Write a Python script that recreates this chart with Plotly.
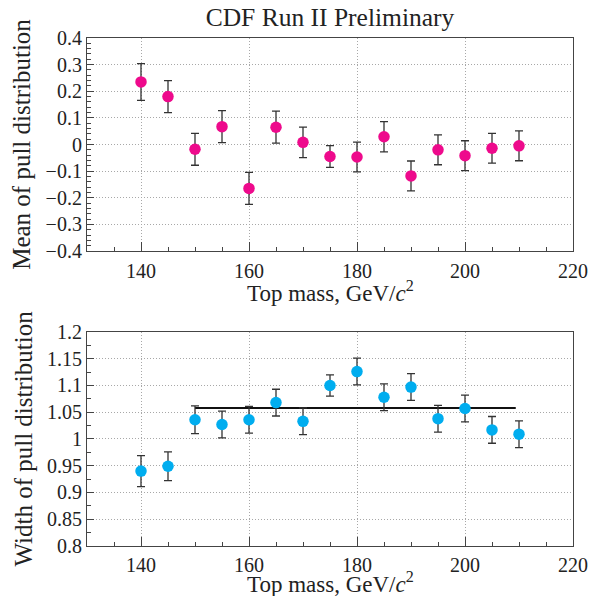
"""
CDF Run II Preliminary: mean and width of pull distribution vs top mass
"""

import plotly.graph_objects as go
from plotly.subplots import make_subplots

# ---- data ----
top_mass = [140, 145, 150, 155, 160, 165, 170, 175, 180, 185, 190, 195, 200, 205, 210]

pull_mean = [0.235, 0.180, -0.018, 0.067, -0.165, 0.065, 0.008, -0.045, -0.047,
             0.029, -0.118, -0.020, -0.042, -0.014, -0.005]
pull_mean_err = [0.069, 0.060, 0.060, 0.060, 0.060, 0.060, 0.057, 0.041, 0.056,
                 0.057, 0.056, 0.056, 0.056, 0.056, 0.056]

pull_width = [0.940, 0.949, 1.036, 1.027, 1.036, 1.068, 1.033, 1.100, 1.126,
              1.078, 1.097, 1.038, 1.057, 1.017, 1.009]
pull_width_err = [0.029, 0.027, 0.026, 0.025, 0.025, 0.025, 0.025, 0.020, 0.025,
                  0.025, 0.025, 0.025, 0.025, 0.025, 0.025]

# constant fit to width (150 - 210)
fit_x = [150, 209.4]
fit_y = [1.058, 1.058]

SERIF = "Liberation Serif, Times New Roman, serif"
MAGENTA = "#ee0a8c"
CYAN = "#00adef"
ERR = "#333333"
TXT = "#222222"

fig = make_subplots(rows=2, cols=1, vertical_spacing=0.16)

# ---- 上图: mean ----
fig.add_trace(
    go.Scatter(
        x=top_mass, y=pull_mean, mode="markers",
        marker=dict(color=MAGENTA, size=11.5),
        error_y=dict(type="data", array=pull_mean_err, color=ERR,
                     thickness=1.3, width=4),
        showlegend=False,
    ),
    row=1, col=1,
)

# ---- 下图: width + fit ----
fig.add_trace(
    go.Scatter(
        x=fit_x, y=fit_y, mode="lines",
        line=dict(color="#111111", width=2), showlegend=False,
    ),
    row=2, col=1,
)
fig.add_trace(
    go.Scatter(
        x=top_mass, y=pull_width, mode="markers",
        marker=dict(color=CYAN, size=11.5),
        error_y=dict(type="data", array=pull_width_err, color=ERR,
                     thickness=1.3, width=4),
        showlegend=False,
    ),
    row=2, col=1,
)

axis_common = dict(
    showline=True, linecolor="#444444", linewidth=1.2, mirror=True,
    ticks="inside", tickcolor="#444444", tickwidth=1,
    showgrid=True, gridcolor="#a8a8a8", griddash="1px,2px", gridwidth=1,
    zeroline=False, automargin=False,
    tickfont=dict(family=SERIF, size=20, color=TXT),
)

for r, standoff in ((1, 2), (2, 1)):
    fig.update_xaxes(
        range=[130, 220], dtick=20, tick0=140, ticklen=9,
        minor=dict(dtick=5, tick0=130, ticks="inside", ticklen=4,
                   tickcolor="#444444", showgrid=False),
        ticklabelstandoff=standoff,
        row=r, col=1, **axis_common,
    )

fig.update_yaxes(
    range=[-0.4, 0.4], dtick=0.1, ticklen=7, tickformat="~g",
    minor=dict(dtick=0.02, ticks="inside", ticklen=4, tickcolor="#444444",
               showgrid=False),
    title=dict(text="Mean of pull distribution",
               font=dict(family=SERIF, size=25, color=TXT), standoff=7),
    row=1, col=1, **axis_common,
)
fig.update_yaxes(
    range=[0.8, 1.2], dtick=0.05, ticklen=7, tickformat="~g",
    minor=dict(dtick=0.025, ticks="inside", ticklen=4, tickcolor="#444444",
               showgrid=False),
    title=dict(text="Width of pull distribution",
               font=dict(family=SERIF, size=25, color=TXT), standoff=7),
    row=2, col=1, **axis_common,
)

# x 轴标题 (用 annotation 精确定位)
xtitle = "Top mass, GeV/<i>c</i><sup>2</sup>"
for xref, yref, ypos in (("x domain", "y domain", -0.192),
                         ("x2 domain", "y2 domain", -0.172)):
    fig.add_annotation(
        text=xtitle, xref=xref, yref=yref, x=0.5, y=ypos,
        xanchor="center", yanchor="middle", showarrow=False,
        font=dict(family=SERIF, size=23, color=TXT),
    )

fig.update_layout(
    width=590, height=596,
    margin=dict(l=87, r=17, t=38, b=50),
    paper_bgcolor="white", plot_bgcolor="white",
    title=dict(text="CDF Run II Preliminary", xref="paper", x=0.5,
               xanchor="center", y=0.971, yanchor="middle",
               font=dict(family=SERIF, size=25.5, color=TXT)),
    yaxis=dict(domain=[0.5807, 1]),
    yaxis2=dict(domain=[0, 0.4213]),
)

# 去掉页面默认的 body 边距, 避免出现滚动条
fig.write_html(
    "out.html",
    config={"displayModeBar": False},
    post_script="document.body.style.margin='0';document.body.style.overflow='hidden';",
)
